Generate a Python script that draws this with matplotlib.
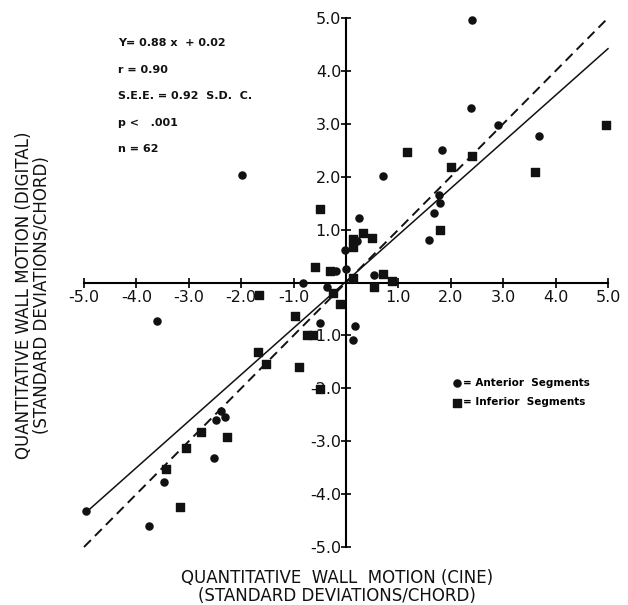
##############################
# Wall motion: digital vs cine
# scatter with regression line
##############################
import matplotlib
matplotlib.use("Agg")
import matplotlib.pyplot as plt

# Anterior segments (circles) - cine x, digital y
ant_x = [2.40, 2.39, 2.90, 3.69, 1.84, 0.70, 1.77, 1.80, 1.68, 1.58,
         0.24, 0.21, -0.02, 0.00, 0.53, -0.20, -0.82, -0.36, -0.49, 0.18,
         0.14, -3.60, -1.98, -2.39, -2.48, -2.31, -2.52, -3.47, -3.75, -4.96]
ant_y = [4.96, 3.29, 2.98, 2.77, 2.50, 2.01, 1.65, 1.50, 1.31, 0.80,
         1.21, 0.79, 0.61, 0.26, 0.14, 0.22, 0.00, -0.08, -0.76, -0.82,
         -1.09, -0.73, 2.03, -2.42, -2.59, -2.55, -3.31, -3.78, -4.60, -4.32]

# Inferior segments (squares)
inf_x = [4.96, 3.61, 2.40, 2.00, 1.17, 1.80, 0.13, 0.13, 0.32, 0.49,
         0.70, 0.87, 0.53, 0.13, -0.25, -0.49, -0.60, -0.30, -0.11, -0.98,
         -1.66, -0.74, -0.63, -1.68, -1.52, -0.89, -0.49, -2.76, -2.27, -3.06,
         -3.44, -3.17]
inf_y = [2.97, 2.08, 2.39, 2.19, 2.47, 0.99, 0.82, 0.68, 0.93, 0.85,
         0.17, 0.03, -0.09, 0.08, -0.19, 1.38, 0.29, 0.22, -0.40, -0.63,
         -0.23, -1.00, -1.00, -1.31, -1.54, -1.59, -2.01, -2.82, -2.93, -3.13,
         -3.53, -4.24]

# regression Y = 0.88x + 0.02 and line of identity
slope = 0.88
intercept = 0.02
fit_x = [-4.9, 5.0]
ident_x = [-5.0, 5.0]

ticks = [-5, -4, -3, -2, -1, 1, 2, 3, 4, 5]
tick_labels = ["-5.0", "-4.0", "-3.0", "-2.0", "-1.0", "1.0", "2.0", "3.0", "4.0", "5.0"]

stats = ["Y= 0.88 x  + 0.02", "r = 0.90", "S.E.E. = 0.92  S.D.  C.", "p <   .001", "n = 62"]

ink = "#111111"

fig = plt.figure(figsize=(6.28, 6.05), dpi=100)
ax = fig.add_axes([84 / 628, 58 / 605, 524 / 628, 529 / 605])

# lines first, points on top
ax.plot(fit_x, [slope * v + intercept for v in fit_x], color=ink, lw=1.1, clip_on=False)
ax.plot(ident_x, ident_x, color=ink, lw=1.4, linestyle=(0, (5, 3)), clip_on=False)

circ = ax.scatter(ant_x, ant_y, s=26, marker="o", color=ink, zorder=3, clip_on=False,
                  label="= Anterior  Segments")
sq = ax.scatter(inf_x, inf_y, s=40, marker="s", color=ink, zorder=3, clip_on=False,
                label="= Inferior  Segments")

ax.set_xlim(-5, 5)
ax.set_ylim(-5, 5)

# axes through the origin
for side in ["top", "right"]:
    ax.spines[side].set_visible(False)
ax.spines["left"].set_position(("data", 0))
ax.spines["bottom"].set_position(("data", 0))
ax.spines["left"].set_linewidth(1.5)
ax.spines["bottom"].set_linewidth(1.5)

ax.set_xticks(ticks)
ax.set_xticklabels(tick_labels)
ax.set_yticks(ticks)
ax.set_yticklabels(tick_labels)
ax.tick_params(direction="inout", length=7, width=1.3, labelsize=11.5,
               colors=ink, pad=2)
ax.tick_params(axis="y", pad=0)

# regression stats in the upper left
for i, line in enumerate(stats):
    fig.text(118 / 628, 1 - (43 + i * 26.6) / 605, line, fontsize=8,
             fontweight="bold", color=ink, va="center", ha="left")

ax.legend(handles=[circ, sq], loc="upper left", frameon=False,
          bbox_to_anchor=(452 / 628, 1 - 378 / 605), bbox_transform=fig.transFigure,
          prop={"size": 7.5, "weight": "bold"}, handletextpad=0.1,
          handlelength=1.0, labelspacing=0.9, borderaxespad=0, borderpad=0)

fig.text(337 / 628, 1 - 587 / 605,
         "QUANTITATIVE  WALL  MOTION (CINE)\n(STANDARD DEVIATIONS/CHORD)",
         fontsize=12, ha="center", va="center", linespacing=1.05, color=ink)
fig.text(33 / 628, 1 - 295 / 605,
         "QUANTITATIVE WALL MOTION (DIGITAL)\n(STANDARD DEVIATIONS/CHORD)",
         fontsize=12, ha="center", va="center", rotation=90, linespacing=1.05, color=ink)

fig.savefig("out.png", dpi=100)
